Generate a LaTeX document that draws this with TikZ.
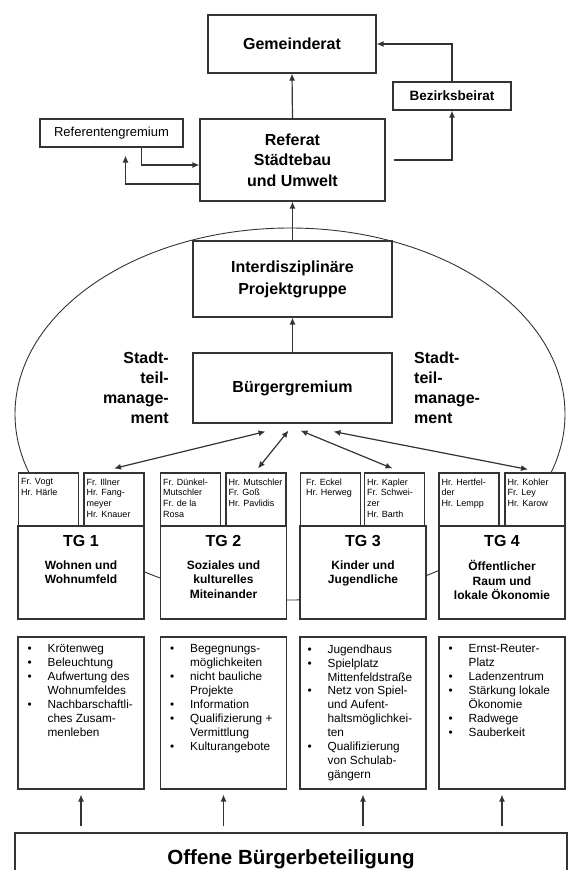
\documentclass[tikz,border=0pt]{standalone}
\usepackage{fontspec}
\setmainfont{Liberation Sans}
\usepackage{tikz}
\usetikzlibrary{arrows.meta,calc,positioning}
\definecolor{linie}{rgb}{0.2,0.2,0.2}
\newcommand{\bul}{\makebox[20pt][l]{\textbullet}}
\newcommand{\ein}{\hspace*{20pt}}

\tikzset{
  kasten/.style={draw=linie, line width=1.1pt, fill=white, inner sep=0pt},
  gross/.style={font={\fontsize{16}{20.5}\selectfont\bfseries}, align=center},
  namen/.style={kasten, minimum width=60pt, minimum height=53pt},
  namentext/.style={inner sep=0pt, align=left, anchor=north west, font={\fontsize{9}{10.7}\selectfont}},
  tgbox/.style={kasten, minimum width=126pt, minimum height=93pt},
  tglabel/.style={inner sep=0pt, font={\fontsize{16}{19}\selectfont\bfseries}},
  tgsub/.style={inner sep=0pt, align=center, anchor=north, font={\fontsize{12}{14.5}\selectfont\bfseries}},
  listbox/.style={kasten, minimum width=126pt, minimum height=152pt},
  liste/.style={inner sep=0pt, align=left, anchor=north west, font={\fontsize{11.8}{13.9}\selectfont}},
  pfeil/.style={draw=linie, line width=1.2pt, ->}
}

\begin{document}
\begin{tikzpicture}[x=1pt,y=-1pt,>={Latex[length=7pt,width=6pt]}]
  \useasboundingbox (0,0) rectangle (573,870);
  % Stadtteilmanagement ellipse (behind the boxes)
  \draw[line width=0.9pt, linie] (290,414) ellipse [x radius=275, y radius=186];
  % upper part
  \node[kasten, gross, minimum width=168pt, minimum height=58pt] (gr) at (292,44) {Gemeinderat};
  \node[kasten, font={\fontsize{13.5}{16}\selectfont\bfseries}, minimum width=118pt, minimum height=28pt] (bb) at (452,96) {Bezirksbeirat};
  \node[kasten, font={\fontsize{13}{16}\selectfont}, minimum width=143pt, minimum height=28pt] (rg) at (111.5,133) {Referentengremium};
  \node[kasten, gross, minimum width=185pt, minimum height=82pt] (ref) at (292.5,160) {Referat\\Städtebau\\und Umwelt};
  \node[kasten, gross, font={\fontsize{16}{22}\selectfont\bfseries}, minimum width=199pt, minimum height=76pt] (ip) at (292.5,279) {Interdisziplinäre\\Projektgruppe};
  \node[kasten, gross, minimum width=199pt, minimum height=70pt] (bg) at (292.5,388) {Bürgergremium};
  \node[gross, font={\fontsize{16}{20}\selectfont\bfseries}, inner sep=0pt, align=right, anchor=north east] (stl) at (169,352) {Stadt-\\teil-\\manage-\\ment};
  \node[gross, font={\fontsize{16}{20}\selectfont\bfseries}, inner sep=0pt, align=left, anchor=north west] (str) at (414,352) {Stadt-\\teil-\\manage-\\ment};
  % arrows upper part
  \draw[pfeil] (ref.north) -- (gr.south);
  \draw[pfeil] (bb.north) |- (gr.east);
  \draw[pfeil, shorten <=8pt] (ref.east) -| (bb.south);
  \draw[pfeil] ([xshift=30pt]rg.south) |- ([yshift=-5pt]ref.west);
  \draw[pfeil, shorten >=8pt] ([yshift=-24pt]ref.west) -| ([xshift=14pt]rg.south);
  \draw[pfeil] (ip.north) -- (ref.south);
  \draw[pfeil] (bg.north) -- (ip.south);
  % name boxes
  \node[namen] (nA) at (48.5,499.5) {};
  \node[namen] (nB) at (114,499.5) {};
  \node[namen] (nC) at (190.5,499.5) {};
  \node[namen] (nD) at (256,499.5) {};
  \node[namen] (nE) at (330.5,499.5) {};
  \node[namen] (nF) at (394.5,499.5) {};
  \node[namen] (nG) at (469,499.5) {};
  \node[namen] (nH) at (535,499.5) {};
  \node[namentext] (nAt) at ([xshift=3pt,yshift=-6pt]nA.north west) {Fr. Vogt\\Hr. Härle};
  \node[namentext] (nBt) at ([xshift=3pt,yshift=-6pt]nB.north west) {Fr. Illner\\Hr. Fang-\\meyer\\Hr. Knauer};
  \node[namentext] (nCt) at ([xshift=3pt,yshift=-6pt]nC.north west) {Fr. Dünkel-\\Mutschler\\Fr. de la\\Rosa};
  \node[namentext] (nDt) at ([xshift=3pt,yshift=-6pt]nD.north west) {Hr. Mutschler\\Fr. Goß\\Hr. Pavlidis};
  \node[namentext] (nEt) at ([xshift=6pt,yshift=-6pt]nE.north west) {Fr. Eckel\\Hr. Herweg};
  \node[namentext] (nFt) at ([xshift=3pt,yshift=-6pt]nF.north west) {Hr. Kapler\\Fr. Schwei-\\zer\\Hr. Barth};
  \node[namentext] (nGt) at ([xshift=3pt,yshift=-6pt]nG.north west) {Hr. Hertfel-\\der\\Hr. Lempp};
  \node[namentext] (nHt) at ([xshift=3pt,yshift=-6pt]nH.north west) {Hr. Kohler\\Fr. Ley\\Hr. Karow};
  % arrows Buergergremium <-> name boxes
  \draw[pfeil, <->] ([xshift=-27pt,yshift=-8pt]bg.south) -- ([yshift=4pt]nB.north);
  \draw[pfeil, <->] ([xshift=-4pt,yshift=-7pt]bg.south) -- ([xshift=2pt,yshift=4pt]nD.north);
  \draw[pfeil, <->] ([xshift=8pt,yshift=-7pt]bg.south) -- ([xshift=-2pt,yshift=4pt]nF.north);
  \draw[pfeil, <->] ([xshift=41pt,yshift=-8pt]bg.south) -- ([xshift=-7pt,yshift=3pt]nH.north);
  % TG boxes
  \node[tgbox] (tg1) at (81,572.5) {};
  \node[tgbox] (tg2) at (223.5,572.5) {};
  \node[tgbox] (tg3) at (363,572.5) {};
  \node[tgbox] (tg4) at (502,572.5) {};
  \node[tglabel] (tg1a) at ([yshift=-16pt]tg1.north) {TG 1};
  \node[tglabel] (tg2a) at ([yshift=-16pt]tg2.north) {TG 2};
  \node[tglabel] (tg3a) at ([yshift=-16pt]tg3.north) {TG 3};
  \node[tglabel] (tg4a) at ([yshift=-16pt]tg4.north) {TG 4};
  \node[tgsub] (tg1b) at ([yshift=-35pt]tg1.north) {Wohnen und\\Wohnumfeld};
  \node[tgsub] (tg2b) at ([yshift=-35pt]tg2.north) {Soziales und\\kulturelles\\Miteinander};
  \node[tgsub] (tg3b) at ([yshift=-35pt]tg3.north) {Kinder und\\Jugendliche};
  \node[tgsub] (tg4b) at ([yshift=-35pt]tg4.north) {Öffentlicher\\Raum und\\lokale Ökonomie};
  % lists
  \node[listbox] (li1) at (81,713) {};
  \node[listbox] (li2) at (223.5,713) {};
  \node[listbox] (li3) at (363,713) {};
  \node[listbox] (li4) at (502,713) {};
  \node[liste] (li1t) at ([xshift=10pt,yshift=-8pt]li1.north west) {\bul Krötenweg\\\bul Beleuchtung\\\bul Aufwertung des\\\ein Wohnumfeldes\\\bul Nachbarschaftli-\\\ein ches Zusam-\\\ein menleben};
  \node[liste] (li2t) at ([xshift=10pt,yshift=-8pt]li2.north west) {\bul Begegnungs-\\\ein möglichkeiten\\\bul nicht bauliche\\\ein Projekte\\\bul Information\\\bul Qualifizierung +\\\ein Vermittlung\\\bul Kulturangebote};
  \node[liste] (li3t) at ([xshift=8pt,yshift=-8pt]li3.north west) {\bul Jugendhaus\\\bul Spielplatz\\\ein Mittenfeldstraße\\\bul Netz von Spiel-\\\ein und Aufent-\\\ein haltsmöglichkei-\\\ein ten\\\bul Qualifizierung\\\ein von Schulab-\\\ein gängern};
  \node[liste] (li4t) at ([xshift=10pt,yshift=-8pt]li4.north west) {\bul Ernst-Reuter-\\\ein Platz\\\bul Ladenzentrum\\\bul Stärkung lokale\\\ein Ökonomie\\\bul Radwege\\\bul Sauberkeit};
  % bottom (box runs past the lower edge)
  \node[kasten, minimum width=552pt, minimum height=58pt] (ob) at (291,862) {};
  \node[inner sep=0pt, anchor=base, font={\fontsize{20.5}{24}\selectfont\bfseries}] (obt) at (291,864) {Offene Bürgerbeteiligung};
  \draw[pfeil, shorten >=5pt, shorten <=6pt] (li1.south |- ob.north) -- (li1.south);
  \draw[pfeil, shorten >=5pt, shorten <=6pt] (li2.south |- ob.north) -- (li2.south);
  \draw[pfeil, shorten >=5pt, shorten <=6pt] (li3.south |- ob.north) -- (li3.south);
  \draw[pfeil, shorten >=5pt, shorten <=6pt] (li4.south |- ob.north) -- (li4.south);
\end{tikzpicture}
\end{document}
